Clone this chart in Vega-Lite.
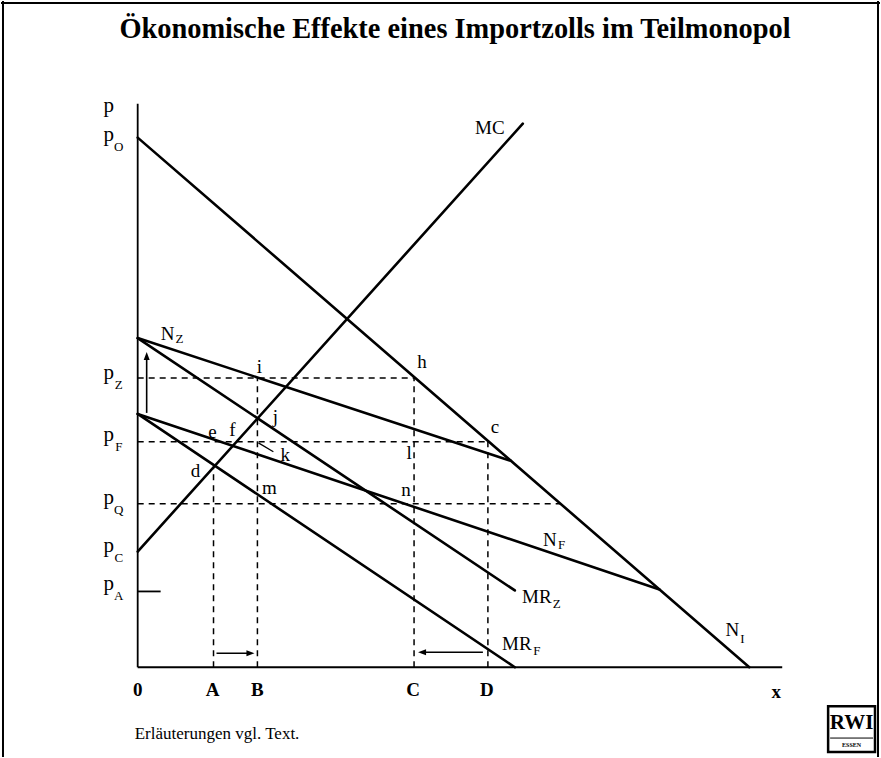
{
  "$schema": "https://vega.github.io/schema/vega-lite/v6.json",
  "width": 881,
  "height": 758,
  "autosize": {"type": "fit", "contains": "padding"},
  "padding": 0,
  "background": "white",
  "config": {"view": {"stroke": null}, "text": {"font": "Liberation Serif", "color": "black"}},
  "datasets": {
    "frame": [
      {"x": -135, "y": 668, "x2": -135, "y2": -90},
      {"x": -137, "y": 666, "x2": 744, "y2": 666},
      {"x": 742, "y": 668, "x2": 742, "y2": -90}
    ],
    "axes": [
      {"part": "p-axis", "x": 0, "y": 565, "x2": 0, "y2": 0},
      {"part": "x-axis", "x": 0, "y": 0, "x2": 646, "y2": 0},
      {"part": "pA tick", "x": 0, "y": 76, "x2": 23, "y2": 76}
    ],
    "curves": [
      {"curve": "N_I", "x": 0, "y": 531, "x2": 613, "y2": 0},
      {"curve": "MC", "x": 0, "y": 116, "x2": 386, "y2": 545},
      {"curve": "N_Z", "x": 0, "y": 330, "x2": 374, "y2": 207},
      {"curve": "MR_Z", "x": 0, "y": 330, "x2": 378, "y2": 77},
      {"curve": "N_F", "x": 0, "y": 254, "x2": 523, "y2": 78},
      {"curve": "MR_F", "x": 0, "y": 254, "x2": 378, "y2": 0}
    ],
    "guides": [
      {"guide": "p_Z", "x": 0, "y": 290, "x2": 278, "y2": 290},
      {"guide": "p_F", "x": 0, "y": 226, "x2": 351, "y2": 226},
      {"guide": "p_Q", "x": 0, "y": 164, "x2": 424, "y2": 164},
      {"guide": "A", "x": 76, "y": 0, "x2": 76, "y2": 201},
      {"guide": "B", "x": 120, "y": 0, "x2": 120, "y2": 290},
      {"guide": "C", "x": 277, "y": 0, "x2": 277, "y2": 290},
      {"guide": "D", "x": 351, "y": 0, "x2": 351, "y2": 226}
    ],
    "arrows": [
      {"dir": "up", "x": 9, "y": 255, "x2": 9, "y2": 312},
      {"dir": "right", "x": 79, "y": 14, "x2": 113, "y2": 14},
      {"dir": "left", "x": 346, "y": 15, "x2": 285, "y2": 15}
    ],
    "leader": [{"x": 121, "y": 225, "x2": 136, "y2": 216}],
    "labels": [
      {"text": "MC", "x": 353, "y": 541},
      {"text": "N", "x": 30, "y": 334},
      {"text": "h", "x": 285, "y": 306},
      {"text": "i", "x": 122, "y": 301},
      {"text": "c", "x": 358, "y": 241},
      {"text": "j", "x": 138, "y": 251},
      {"text": "e", "x": 75, "y": 236},
      {"text": "f", "x": 95, "y": 238},
      {"text": "d", "x": 58, "y": 197},
      {"text": "k", "x": 148, "y": 213},
      {"text": "m", "x": 132, "y": 180},
      {"text": "l", "x": 272, "y": 215},
      {"text": "n", "x": 269, "y": 178},
      {"text": "N", "x": 413, "y": 128},
      {"text": "MR", "x": 400, "y": 70},
      {"text": "MR", "x": 380, "y": 23},
      {"text": "N", "x": 596, "y": 37}
    ],
    "subs": [
      {"text": "Z", "x": 42, "y": 329},
      {"text": "F", "x": 425, "y": 123},
      {"text": "Z", "x": 420, "y": 63},
      {"text": "F", "x": 400, "y": 16},
      {"text": "I", "x": 606, "y": 28}
    ],
    "ticks": [
      {"text": "0", "x": 0, "y": -23},
      {"text": "A", "x": 75, "y": -23},
      {"text": "B", "x": 120, "y": -23},
      {"text": "C", "x": 276, "y": -23},
      {"text": "D", "x": 350, "y": -23},
      {"text": "x", "x": 640, "y": -25}
    ],
    "plabels": [
      {"sub": "", "x": -29, "y": 557},
      {"sub": "O", "x": -29, "y": 528},
      {"sub": "Z", "x": -29, "y": 289},
      {"sub": "F", "x": -29, "y": 227},
      {"sub": "Q", "x": -29, "y": 164},
      {"sub": "C", "x": -29, "y": 116},
      {"sub": "A", "x": -29, "y": 77}
    ],
    "notes": [
      {"text": "Ökonomische Effekte eines Importzolls im Teilmonopol", "kind": "title", "x": 318, "y": 640},
      {"text": "Erläuterungen vgl. Text.", "kind": "note", "x": -3, "y": -67}
    ],
    "logo": [{"x": 692, "y": -39, "x2": 739, "y2": -85}],
    "logoline": [{"x": 694, "y": -71, "x2": 737, "y2": -71}],
    "logotext": [
      {"text": "RWI", "size": "big", "x": 715.5, "y": -56},
      {"text": "ESSEN", "size": "small", "x": 715.5, "y": -78}
    ]
  },
  "encoding": {
    "x": {"field": "x", "type": "quantitative", "scale": {"domain": [-137, 744], "nice": false, "zero": false}, "axis": null},
    "y": {"field": "y", "type": "quantitative", "scale": {"domain": [-90, 668], "nice": false, "zero": false}, "axis": null}
  },
  "layer": [
    {"data": {"name": "frame"}, "mark": {"type": "rule", "strokeWidth": 2, "color": "black"},
     "encoding": {"x2": {"field": "x2"}, "y2": {"field": "y2"}}},
    {"data": {"name": "guides"}, "mark": {"type": "rule", "strokeWidth": 1.5, "strokeDash": [6, 5], "color": "black"},
     "encoding": {"x2": {"field": "x2"}, "y2": {"field": "y2"}}},
    {"data": {"name": "axes"}, "mark": {"type": "rule", "strokeWidth": 1.8, "color": "black"},
     "encoding": {"x2": {"field": "x2"}, "y2": {"field": "y2"}}},
    {"data": {"name": "curves"}, "mark": {"type": "rule", "strokeWidth": 2.6, "color": "black", "strokeCap": "round"},
     "encoding": {"x2": {"field": "x2"}, "y2": {"field": "y2"}}},
    {"data": {"name": "leader"}, "mark": {"type": "rule", "strokeWidth": 1.3, "color": "black"},
     "encoding": {"x2": {"field": "x2"}, "y2": {"field": "y2"}}},
    {"data": {"name": "arrows"}, "mark": {"type": "rule", "strokeWidth": 1.6, "color": "black"},
     "encoding": {"x2": {"field": "x2"}, "y2": {"field": "y2"}}},
    {"data": {"name": "arrows"}, "mark": {"type": "point", "filled": true, "size": 64, "color": "black", "opacity": 1},
     "encoding": {
       "x": {"field": "x2", "type": "quantitative"},
       "y": {"field": "y2", "type": "quantitative"},
       "shape": {"field": "dir", "type": "nominal", "legend": null,
         "scale": {"domain": ["up", "right", "left"], "range": ["M0,-1L0.75,1L-0.75,1Z", "M1,0L-1,0.75L-1,-0.75Z", "M-1,0L1,0.75L1,-0.75Z"]}}
     }},
    {"data": {"name": "labels"}, "mark": {"type": "text", "fontSize": 19, "align": "center", "baseline": "middle"},
     "encoding": {"text": {"field": "text"}}},
    {"data": {"name": "subs"}, "mark": {"type": "text", "fontSize": 13, "align": "center", "baseline": "middle"},
     "encoding": {"text": {"field": "text"}}},
    {"data": {"name": "ticks"}, "mark": {"type": "text", "fontSize": 19, "fontWeight": "bold", "align": "center", "baseline": "middle"},
     "encoding": {"text": {"field": "text"}}},
    {"data": {"name": "plabels"}, "mark": {"type": "text", "fontSize": 21, "align": "center", "baseline": "alphabetic"},
     "encoding": {"text": {"value": "p"}}},
    {"data": {"name": "plabels"}, "mark": {"type": "text", "fontSize": 13, "align": "center", "baseline": "alphabetic", "dx": 10, "dy": 10},
     "encoding": {"text": {"field": "sub"}}},
    {"data": {"name": "notes"}, "transform": [{"filter": "datum.kind === 'title'"}],
     "mark": {"type": "text", "fontSize": 28.4, "fontWeight": "bold", "align": "center", "baseline": "middle"},
     "encoding": {"text": {"field": "text"}}},
    {"data": {"name": "notes"}, "transform": [{"filter": "datum.kind === 'note'"}],
     "mark": {"type": "text", "fontSize": 17, "align": "left", "baseline": "middle"},
     "encoding": {"text": {"field": "text"}}},
    {"data": {"name": "logo"}, "mark": {"type": "rect", "fill": "white", "stroke": "black", "strokeWidth": 2.5},
     "encoding": {"x2": {"field": "x2"}, "y2": {"field": "y2"}}},
    {"data": {"name": "logoline"}, "mark": {"type": "rule", "strokeWidth": 1, "color": "black"},
     "encoding": {"x2": {"field": "x2"}, "y2": {"field": "y2"}}},
    {"data": {"name": "logotext"}, "transform": [{"filter": "datum.size === 'big'"}],
     "mark": {"type": "text", "fontSize": 21, "fontWeight": "bold", "align": "center", "baseline": "middle"},
     "encoding": {"text": {"field": "text"}}},
    {"data": {"name": "logotext"}, "transform": [{"filter": "datum.size === 'small'"}],
     "mark": {"type": "text", "fontSize": 6, "fontWeight": "bold", "align": "center", "baseline": "middle"},
     "encoding": {"text": {"field": "text"}}}
  ]
}
